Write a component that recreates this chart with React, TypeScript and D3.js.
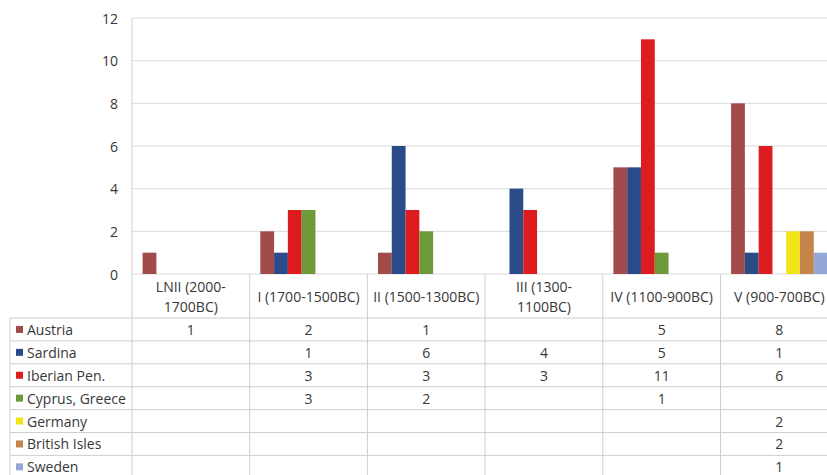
import React from "react";
import * as d3 from "d3";

const categories = [
  "LNII (2000-1700BC)",
  "I (1700-1500BC)",
  "II (1500-1300BC)",
  "III (1300-1100BC)",
  "IV (1100-900BC)",
  "V (900-700BC)",
];
const seriesNames = ["Austria", "Sardina", "Iberian Pen.", "Cyprus, Greece", "Germany", "British Isles", "Sweden"];
const seriesColors = ["#a14b4b", "#2a4a88", "#dd1c1f", "#6f9a3c", "#f2e416", "#c5854a", "#93a8d6"];
const austria = [1, 2, 1, null, 5, 8];
const sardina = [null, 1, 6, 4, 5, 1];
const iberian = [null, 3, 3, 3, 11, 6];
const cyprus = [null, 3, 2, null, 1, null];
const germany = [null, null, null, null, null, 2];
const british = [null, null, null, null, null, 2];
const sweden = [null, null, null, null, null, 1];
const yTicks = [0, 2, 4, 6, 8, 10, 12];

const seriesValues: (number | null)[][] = [austria, sardina, iberian, cyprus, germany, british, sweden];

const W = 827;
const H = 475;
const plotLeft = 132;
const catW = 117.7;
const plotTop = 18;
const zeroY = 274;
const headerBottom = 318;
const rowH = 22.9;
const tableLeft = 10;
const FONT = "'Open Sans', 'Noto Sans', sans-serif";
const FS = 14;
const TXT = "#383838";

function splitLabel(s: string): string[] {
  if (s.length <= 16) return [s];
  const i = s.indexOf("-");
  return [s.slice(0, i + 1), s.slice(i + 1)];
}

export default function App() {
  const x = d3
    .scaleBand<string>()
    .domain(categories)
    .range([plotLeft, plotLeft + catW * categories.length])
    .padding(0);
  const inner = d3
    .scaleBand<string>()
    .domain(seriesNames)
    .range([10.6, catW - 10.6])
    .padding(0);
  const y = d3.scaleLinear().domain([0, 12]).range([zeroY, plotTop]);
  const right = plotLeft + catW * categories.length;
  const tableBottom = headerBottom + rowH * seriesNames.length;

  return (
    <svg width={W} height={H} style={{ position: "absolute", left: 0, top: 0, background: "#fff" }}>
      <rect x={0} y={0} width={W} height={H} fill="#fff" />
      {yTicks.map((t) => (
        <line key={t} x1={plotLeft} x2={right} y1={y(t)} y2={y(t)} stroke="#d9d9d9" strokeWidth={1} />
      ))}
      {yTicks.map((t) => (
        <text
          key={"t" + t}
          x={118}
          y={y(t)}
          textAnchor="end"
          dominantBaseline="central"
          fontFamily={FONT}
          fontSize={FS}
          fill={TXT}
        >
          {t}
        </text>
      ))}
      {seriesNames.map((s, si) =>
        categories.map((c, ci) => {
          const v = seriesValues[si][ci];
          if (v == null) return null;
          return (
            <rect
              key={s + c}
              x={(x(c) as number) + (inner(s) as number)}
              y={y(v)}
              width={inner.bandwidth()}
              height={y(0) - y(v)}
              fill={seriesColors[si]}
            />
          );
        })
      )}
      <line x1={plotLeft} x2={plotLeft} y1={plotTop} y2={tableBottom} stroke="#cfcfcf" />
      {categories.map((c) => (
        <line
          key={"v" + c}
          x1={(x(c) as number) + catW}
          x2={(x(c) as number) + catW}
          y1={zeroY}
          y2={tableBottom}
          stroke="#cfcfcf"
        />
      ))}
      <line x1={tableLeft} x2={tableLeft} y1={headerBottom} y2={tableBottom} stroke="#cfcfcf" />
      {seriesNames.map((s, si) => (
        <line
          key={"h" + s}
          x1={tableLeft}
          x2={right}
          y1={headerBottom + rowH * si}
          y2={headerBottom + rowH * si}
          stroke="#cfcfcf"
        />
      ))}
      {categories.map((c) => {
        const lines = splitLabel(c);
        const cx = (x(c) as number) + catW / 2;
        const cy = (zeroY + headerBottom) / 2;
        return (
          <text key={"c" + c} textAnchor="middle" fontFamily={FONT} fontSize={FS} fill={TXT}>
            {lines.map((l, li) => (
              <tspan key={li} x={cx} y={cy + (li - (lines.length - 1) / 2) * 20} dominantBaseline="central">
                {l}
              </tspan>
            ))}
          </text>
        );
      })}
      {seriesNames.map((s, si) => {
        const cy = headerBottom + rowH * (si + 0.5);
        return (
          <g key={"r" + s}>
            <rect x={16} y={cy - 3.5} width={7} height={7} fill={seriesColors[si]} />
            <text x={27} y={cy} dominantBaseline="central" fontFamily={FONT} fontSize={FS} fill={TXT}>
              {s}
            </text>
            {categories.map((c, ci) => {
              const v = seriesValues[si][ci];
              if (v == null) return null;
              return (
                <text
                  key={c}
                  x={(x(c) as number) + catW / 2}
                  y={cy}
                  textAnchor="middle"
                  dominantBaseline="central"
                  fontFamily={FONT}
                  fontSize={FS}
                  fill={TXT}
                >
                  {v}
                </text>
              );
            })}
          </g>
        );
      })}
    </svg>
  );
}
